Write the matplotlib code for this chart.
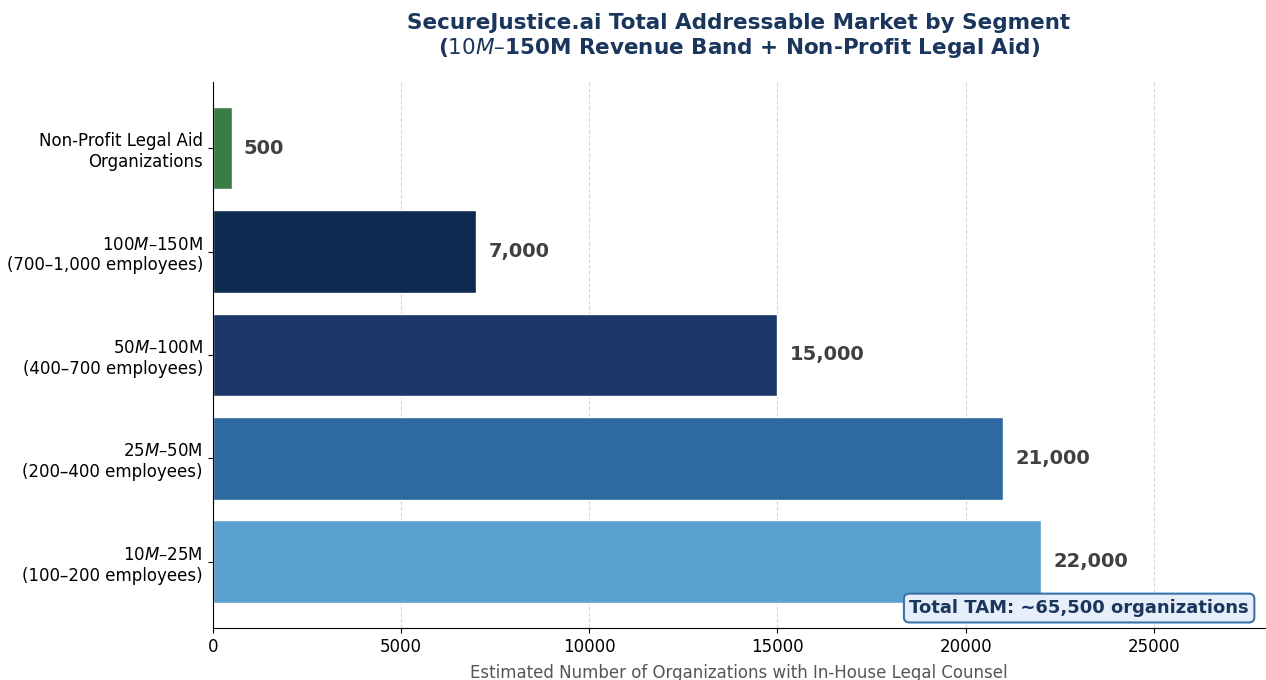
import matplotlib
matplotlib.use('Agg')
import matplotlib.pyplot as plt

plt.rcParams['font.family'] = 'DejaVu Sans'

# segments, bottom to top
segments = [
    '$10M–$25M\n(100–200 employees)',
    '$25M–$50M\n(200–400 employees)',
    '$50M–$100M\n(400–700 employees)',
    '$100M–$150M\n(700–1,000 employees)',
    'Non-Profit Legal Aid\nOrganizations',
]
counts = [22000, 21000, 15000, 7000, 500]
colors = ['#5BA1CE', '#2E6AA1', '#1B3868', '#0D2A50', '#3A7D44']
total_tam = 65500

navy = '#1B365D'

fig = plt.figure(figsize=(12.66, 6.8), dpi=100)
ax = fig.add_axes([0.168, 0.0765, 0.831, 0.803])

bars = ax.barh(segments, counts, height=0.8, color=colors, edgecolor='white', linewidth=1)

for b, v in zip(bars, counts):
    ax.text(v + 320, b.get_y() + b.get_height() / 2, f'{v:,}',
            va='center', ha='left', fontsize=14, fontweight='bold', color='#404040')

ax.set_xlim(0, max(counts) * 1.27)
ax.set_title('SecureJustice.ai Total Addressable Market by Segment\n($10M–$150M Revenue Band + Non-Profit Legal Aid)',
             fontsize=15.5, fontweight='bold', color=navy, pad=20)
ax.set_xlabel('Estimated Number of Organizations with In-House Legal Counsel',
              fontsize=12, color='#555555', labelpad=6)
ax.tick_params(axis='x', labelsize=12)
ax.tick_params(axis='y', labelsize=12)

ax.spines['top'].set_visible(False)
ax.spines['right'].set_visible(False)
ax.xaxis.grid(True, linestyle='--', color='#cccccc', alpha=0.8)
ax.set_axisbelow(True)

ax.text(0.985, 0.02, f'Total TAM: ~{total_tam:,} organizations', transform=ax.transAxes,
        ha='right', va='bottom', fontsize=13, fontweight='bold', color=navy,
        bbox=dict(boxstyle='round,pad=0.3', facecolor='#E6EEFA', edgecolor='#3A72A8', linewidth=1.5))

fig.savefig('out.png', dpi=100)
